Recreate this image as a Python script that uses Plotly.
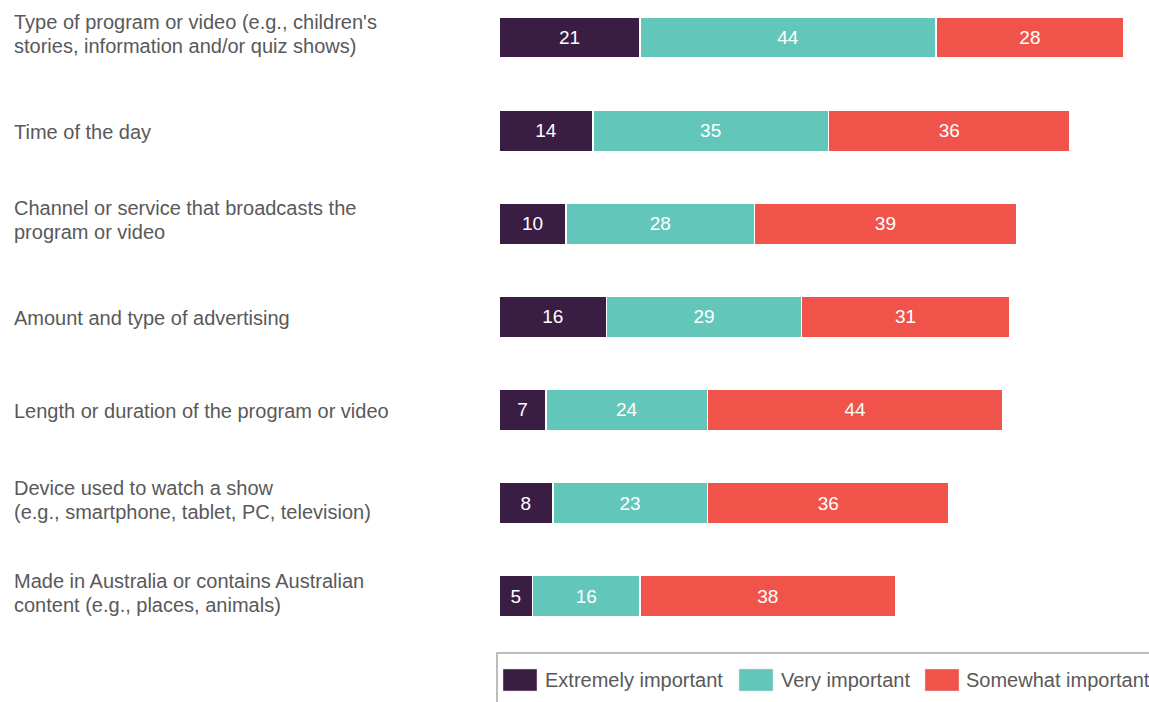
import plotly.graph_objects as go

categories = [
    ["Type of program or video (e.g., children's", "stories, information and/or quiz shows)"],
    ["Time of the day"],
    ["Channel or service that broadcasts the", "program or video"],
    ["Amount and type of advertising"],
    ["Length or duration of the program or video"],
    ["Device used to watch a show", "(e.g., smartphone, tablet, PC, television)"],
    ["Made in Australia or contains Australian", "content (e.g., places, animals)"],
]
extremely = [21, 14, 10, 16, 7, 8, 5]
very = [44, 35, 28, 29, 24, 23, 16]
somewhat = [28, 36, 39, 31, 44, 36, 38]

series_names = ["Extremely important", "Very important", "Somewhat important"]
series_vals = [extremely, very, somewhat]
series_cols = ["#3A1D42", "#63C6BA", "#F0534A"]

W, H = 1149, 702
ML, MR, MT, MB = 499, 0, 0, 52
plot_w = W - ML - MR
plot_h = H - MT - MB
px_per_unit = 6.72
row_px = 93.1
first_center = 37.5

FONT = "Liberation Sans, Arial"
GREY = "#595959"

fig = go.Figure()
ypos = list(range(len(categories)))
for name, vals, col in zip(series_names, series_vals, series_cols):
    fig.add_trace(go.Bar(
        y=ypos, x=vals, name=name, orientation="h",
        marker=dict(color=col, line=dict(color="white", width=1.5)),
        text=[str(v) for v in vals], textposition="inside",
        insidetextanchor="middle",
        textfont=dict(color="white", size=19, family=FONT),
        width=0.445, showlegend=False,
    ))

label_x = (12 - ML) / plot_w
for i, lines in enumerate(categories):
    if len(lines) == 1:
        offs = [1.5 / row_px]
    else:
        offs = [-15.5 / row_px, 8.5 / row_px]
    for line, o in zip(lines, offs):
        fig.add_annotation(
            xref="paper", yref="y", x=label_x, y=i + o,
            text=line, showarrow=False, xanchor="left", yanchor="middle",
            align="left", font=dict(size=20, color=GREY, family=FONT),
        )

def px_x(X):
    return (X - ML) / plot_w

def px_y(Y):
    return 1 - (Y - MT) / plot_h

# legend box
fig.add_shape(type="rect", xref="paper", yref="paper",
              x0=px_x(497), x1=px_x(1170), y0=px_y(653), y1=px_y(720),
              line=dict(color="#A6A6A6", width=1.5), fillcolor="rgba(0,0,0,0)")
sw_x = [503, 739, 925]
tx_x = [543, 779, 964]
for name, col, sx, tx in zip(series_names, series_cols, sw_x, tx_x):
    fig.add_shape(type="rect", xref="paper", yref="paper",
                  x0=px_x(sx), x1=px_x(sx + 34), y0=px_y(691), y1=px_y(669),
                  line=dict(color="#E0E0E0", width=0.5), fillcolor=col)
    fig.add_annotation(xref="paper", yref="paper", x=px_x(tx), y=px_y(680),
                       text=name, showarrow=False, xanchor="left", yanchor="middle",
                       font=dict(size=20, color=GREY, family=FONT))

y_top = -first_center / row_px
y_bot = y_top + plot_h / row_px

fig.update_layout(
    width=W, height=H,
    margin=dict(l=ML, r=MR, t=MT, b=MB),
    barmode="stack", bargap=0,
    plot_bgcolor="white", paper_bgcolor="white",
    xaxis=dict(range=[0, plot_w / px_per_unit], visible=False),
    yaxis=dict(range=[y_bot, y_top], visible=False),
    showlegend=False,
    hovermode=False,
)

fig.write_html(
    "out.html",
    config={"displayModeBar": False, "staticPlot": True},
    post_script="document.body.style.margin='0';document.body.style.overflow='hidden';",
)
